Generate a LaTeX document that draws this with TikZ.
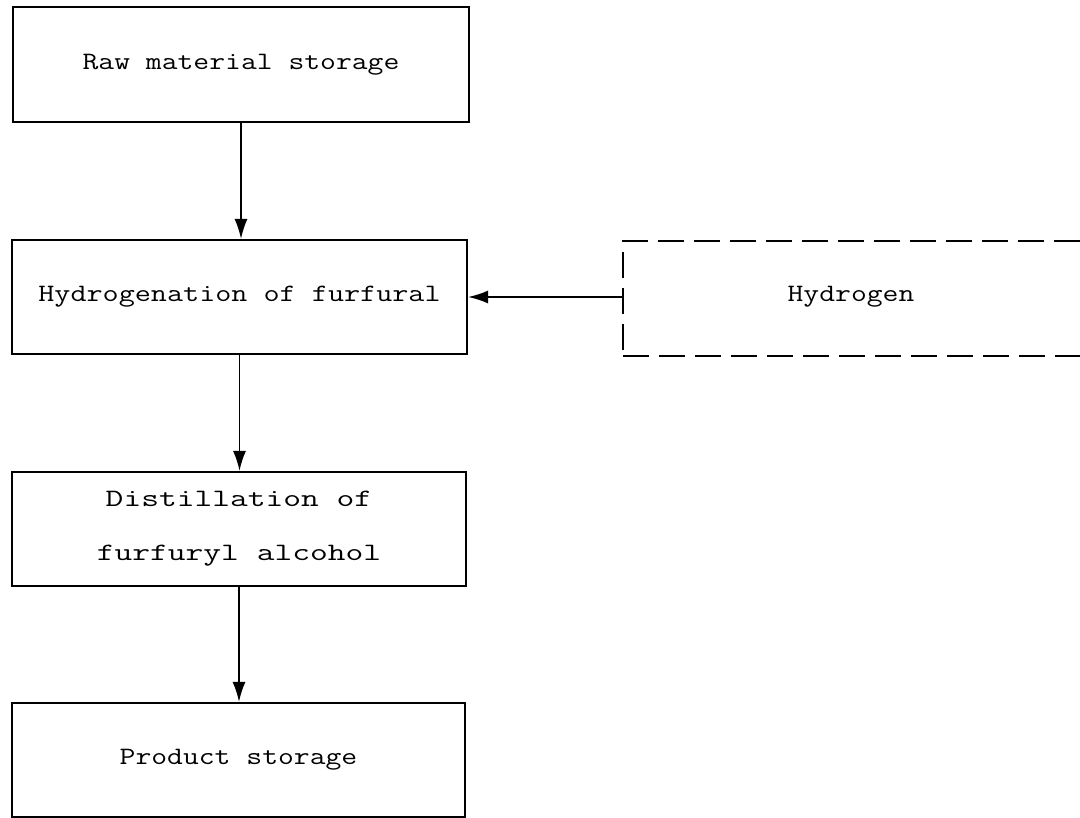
\documentclass[tikz,border=0pt]{standalone}
\usepackage{graphicx}
\usetikzlibrary{arrows.meta}
% typewriter text, widened to the spacing of a typewriter face
\newcommand{\tw}[2][1.23]{\scalebox{#1}[1]{#2}}
\begin{document}
\begin{tikzpicture}[x=1pt,y=-1pt,
  procbox/.style={draw, line width=2.2pt, inner sep=0pt, minimum width=455pt, minimum height=114pt,
    font=\fontsize{25}{54}\selectfont\ttfamily, align=center},
  feedbox/.style={draw, line width=2pt, dash pattern=on 26pt off 10pt, inner sep=0pt,
    minimum width=477pt, minimum height=115pt},
  flow/.style={line width=1.6pt, -{Latex[length=20pt,width=13pt]}}]
\clip (0,0) rectangle (1080,818);
\fill[white] (0,0) rectangle (1080,818);

\node[procbox, minimum width=456pt, minimum height=115pt] (raw) at (241,64.5) {\tw{Raw material storage}};
\node[procbox] (hyd) at (239.5,297) {\tw[1.25]{Hydrogenation of furfural}};
\node[procbox, minimum width=454pt] (dist) at (239,529) {\tw[1.38]{Distillation of}\\\tw[1.38]{furfuryl alcohol}};
\node[procbox, minimum width=453pt] (prod) at (238.5,760) {\tw{Product storage}};

\node[feedbox] (h2box) at (861.5,298.5) {};
\node[font=\fontsize{25}{30}\selectfont\ttfamily] (h2) at (851,297) {\tw{Hydrogen}};

\draw[flow] (raw.south) -- (raw.south |- hyd.north);
\draw[flow] (hyd.south) -- (hyd.south |- dist.north);
\draw[flow] (dist.south) -- (dist.south |- prod.north);
\draw[flow] (h2box.west |- hyd.east) -- (hyd.east);
\end{tikzpicture}
\end{document}
